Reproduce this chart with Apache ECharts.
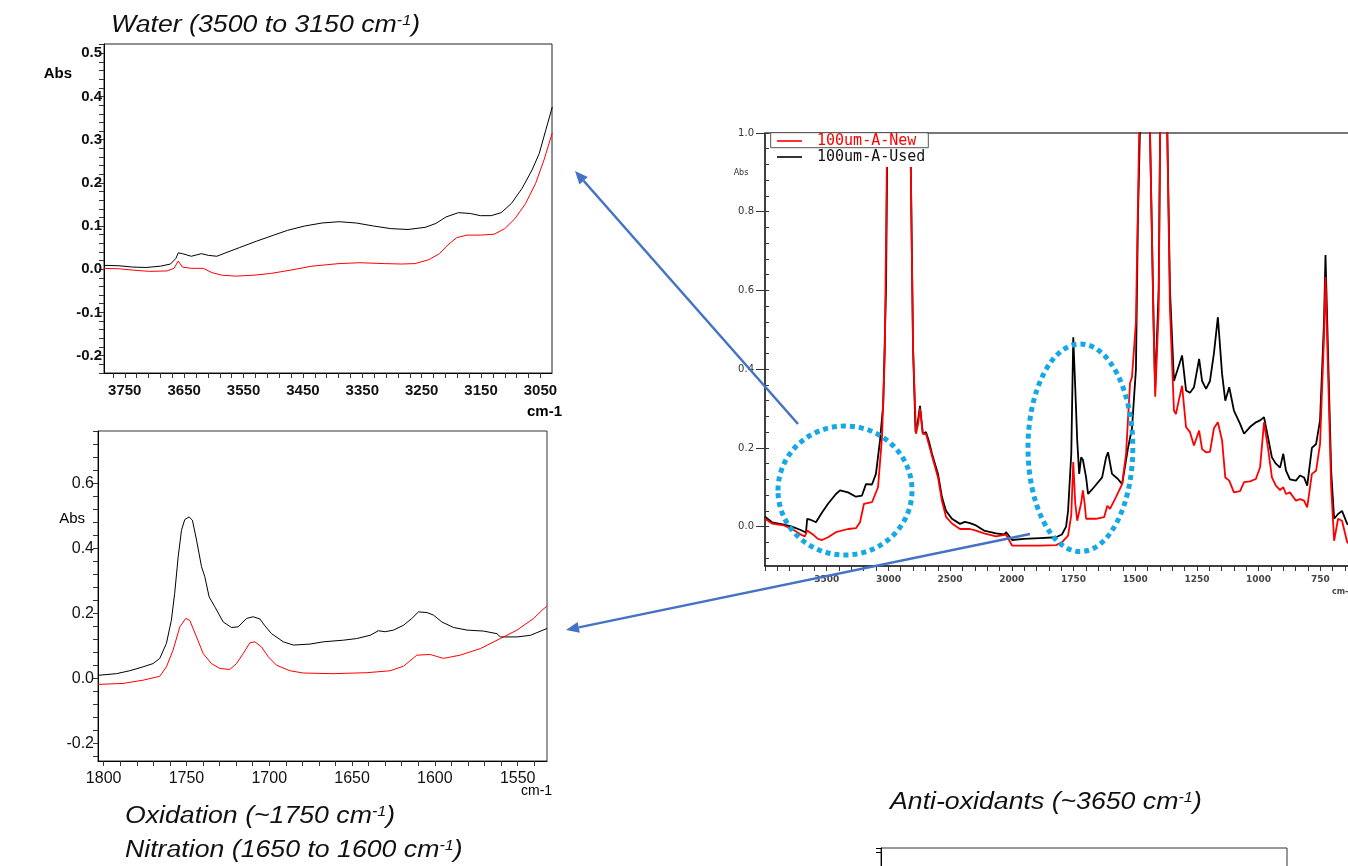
<!DOCTYPE html>
<html><head><meta charset="utf-8">
<script src="https://cdn.jsdelivr.net/npm/echarts@6/dist/echarts.min.js"></script>
<style>html,body{margin:0;padding:0;background:#fff}#c{width:1348px;height:866px}</style>
</head><body><div id="c"></div>
<script>
// ---------- DATA ----------
// Top-left: Water region (wavenumber cm-1, Abs)
const waterUsedWn  = [3785,3760,3737,3714,3690,3673,3664,3660,3653,3638,3621,3609,3595,3580,3557,3528,3499,3476,3447,3418,3389,3360,3331,3302,3273,3244,3226,3209,3188,3168,3151,3133,3116,3099,3081,3064,3052,3041,3030];
const waterUsedAbs = [0.009,0.008,0.005,0.004,0.007,0.012,0.025,0.038,0.036,0.030,0.036,0.032,0.030,0.038,0.050,0.065,0.079,0.090,0.100,0.107,0.110,0.107,0.100,0.094,0.092,0.097,0.106,0.121,0.131,0.129,0.124,0.124,0.131,0.152,0.187,0.230,0.268,0.322,0.376];
const waterNewWn   = [3785,3760,3737,3708,3679,3667,3660,3653,3638,3618,3603,3586,3563,3534,3505,3470,3435,3389,3354,3313,3284,3261,3238,3220,3206,3191,3174,3151,3128,3110,3093,3075,3058,3044,3030];
const waterNewAbs  = [0.002,0.001,-0.002,-0.005,-0.004,0.002,0.019,0.005,0.002,0.002,-0.008,-0.014,-0.016,-0.014,-0.010,-0.002,0.007,0.013,0.015,0.013,0.012,0.013,0.022,0.036,0.056,0.073,0.079,0.079,0.081,0.094,0.117,0.152,0.199,0.253,0.316];

// Bottom-left: Oxidation / Nitration region
const oxUsedWn  = [1803.4,1792.3,1784.3,1776.2,1770.2,1766.1,1762.1,1759.1,1757.1,1755.0,1753.0,1751.0,1748.4,1746.4,1743.9,1740.9,1738.9,1736.3,1732.9,1727.8,1722.8,1718.8,1713.7,1709.7,1705.6,1702.6,1698.6,1691.5,1685.5,1675.4,1667.3,1655.2,1647.2,1639.1,1634.1,1630.0,1625.0,1618.9,1613.9,1609.9,1604.8,1600.8,1595.8,1588.7,1580.6,1570.6,1562.5,1560.5,1550.4,1542.3,1532.3];
const oxUsedAbs = [0.010,0.015,0.024,0.036,0.046,0.062,0.108,0.179,0.262,0.374,0.456,0.489,0.497,0.487,0.426,0.344,0.313,0.251,0.221,0.174,0.157,0.159,0.185,0.190,0.183,0.162,0.138,0.113,0.103,0.106,0.113,0.118,0.123,0.133,0.147,0.144,0.149,0.164,0.185,0.205,0.203,0.195,0.174,0.157,0.149,0.146,0.138,0.128,0.128,0.133,0.154];
const oxNewWn   = [1803.4,1788.3,1776.2,1766.1,1762.1,1758.1,1754.0,1750.4,1748.0,1743.9,1739.9,1734.9,1729.8,1723.8,1719.8,1715.7,1711.7,1708.7,1704.6,1700.6,1695.6,1687.5,1679.4,1661.3,1641.1,1627.0,1618.9,1610.9,1602.8,1594.8,1584.7,1572.6,1560.5,1550.4,1540.3,1535.3,1532.3];
const oxNewAbs  = [-0.018,-0.015,-0.005,0.007,0.036,0.087,0.159,0.185,0.179,0.128,0.077,0.046,0.031,0.028,0.046,0.077,0.110,0.113,0.097,0.067,0.041,0.024,0.017,0.015,0.018,0.024,0.038,0.072,0.074,0.062,0.072,0.092,0.123,0.149,0.185,0.210,0.223];

// Right: full spectrum
const fullUsedWn  = [4000,3943,3846,3781,3716,3668,3658,3635,3619,3587,3538,3489,3425,3392,3327,3263,3214,3182,3133,3101,3068,3042,3019,3008,3000,2950,2920,2890,2860,2840,2826,2822,2800,2780,2776,2760,2744,2721,2695,2670,2647,2598,2566,2533,2485,2420,2380,2339,2290,2225,2128,2060,2047,2031,1999,1951,1886,1821,1797,1780,1772,1759,1751,1743,1735,1727,1719,1712,1699,1691,1667,1634,1618,1610,1594,1570,1553,1529,1513,1497,1489,1481,1470,1460,1445,1440,1425,1419,1411,1405,1399,1390,1377,1370,1359,1343,1335,1310,1294,1278,1262,1241,1229,1213,1197,1181,1165,1148,1135,1119,1100,1075,1059,1035,1011,994,978,962,946,930,913,900,889,873,849,832,816,803,784,767,751,735,729,719,706,694,678,662,641,620];
const fullUsedAbs = [0.025,0.011,0.005,0.000,-0.008,-0.015,0.020,0.018,0.015,0.011,0.036,0.058,0.083,0.092,0.087,0.076,0.079,0.108,0.107,0.134,0.219,0.310,0.610,1.000,1.300,1.600,1.800,1.500,1.700,1.400,1.100,1.000,0.450,0.240,0.236,0.270,0.307,0.236,0.240,0.215,0.185,0.134,0.075,0.040,0.020,0.007,0.012,0.009,0.003,-0.010,-0.017,-0.020,-0.014,-0.020,-0.034,-0.031,-0.029,-0.027,-0.020,0.000,0.040,0.185,0.481,0.354,0.220,0.134,0.176,0.170,0.125,0.083,0.100,0.125,0.176,0.189,0.134,0.121,0.108,0.200,0.250,0.400,0.780,1.000,1.500,1.800,1.400,1.000,0.500,0.354,0.354,0.600,1.000,1.500,1.600,1.000,0.600,0.370,0.370,0.435,0.346,0.340,0.354,0.426,0.370,0.350,0.370,0.440,0.532,0.388,0.320,0.354,0.295,0.261,0.236,0.253,0.265,0.270,0.278,0.227,0.176,0.160,0.150,0.185,0.142,0.120,0.117,0.130,0.125,0.104,0.200,0.210,0.270,0.520,0.690,0.450,0.142,0.020,0.032,0.040,0.007,0.000];
const fullNewWn   = [4000,3943,3846,3781,3716,3677,3658,3635,3603,3571,3538,3489,3425,3327,3263,3230,3198,3133,3084,3052,3029,3010,3000,2950,2920,2890,2860,2840,2826,2822,2800,2776,2760,2744,2721,2695,2647,2598,2566,2533,2485,2420,2339,2290,2225,2128,2047,2031,1999,1951,1886,1821,1797,1772,1759,1751,1743,1735,1727,1719,1712,1705,1699,1683,1659,1626,1613,1602,1578,1553,1537,1521,1513,1497,1484,1470,1460,1445,1440,1425,1419,1411,1405,1399,1390,1377,1370,1359,1343,1335,1327,1310,1294,1278,1262,1241,1229,1213,1197,1181,1165,1148,1135,1119,1100,1075,1059,1035,1011,994,978,962,946,930,913,900,889,873,849,832,816,803,784,767,751,735,729,719,706,694,678,662,641,620];
const fullNewAbs  = [0.020,0.008,0.003,-0.006,-0.019,-0.025,-0.010,-0.015,-0.022,-0.031,-0.034,-0.027,-0.014,-0.006,-0.004,0.011,0.058,0.062,0.100,0.227,0.440,1.000,1.300,1.600,1.800,1.500,1.700,1.400,1.100,1.000,0.450,0.236,0.260,0.300,0.236,0.235,0.180,0.125,0.065,0.025,0.008,-0.006,-0.006,-0.010,-0.017,-0.025,-0.020,-0.025,-0.048,-0.048,-0.048,-0.047,-0.040,-0.023,0.030,0.164,0.060,0.015,0.020,0.060,0.092,0.060,0.020,0.020,0.020,0.024,0.053,0.045,0.075,0.108,0.185,0.364,0.380,0.520,1.000,1.500,1.800,1.400,1.000,0.500,0.330,0.325,0.550,1.000,1.500,1.600,1.000,0.550,0.295,0.286,0.310,0.358,0.253,0.240,0.206,0.244,0.197,0.189,0.190,0.250,0.265,0.219,0.125,0.117,0.087,0.090,0.113,0.115,0.121,0.151,0.265,0.200,0.125,0.104,0.093,0.100,0.083,0.087,0.066,0.070,0.066,0.049,0.134,0.142,0.210,0.480,0.634,0.400,0.100,-0.036,0.020,0.015,-0.040,-0.050];

// Tick labels
const waterXLabels = [3750,3650,3550,3450,3350,3250,3150,3050];
const waterYLabels = [0.5,0.4,0.3,0.2,0.1,0.0,-0.1,-0.2];
const oxXLabels = [1800,1750,1700,1650,1600,1550];
const oxYLabels = [0.6,0.4,0.2,0.0,-0.2];
const fullXLabels = [3500,3000,2500,2000,1750,1500,1250,1000,750];
const fullYLabels = [0.0,0.2,0.4,0.6,0.8,1.0];

const NEW = '100um-A-New', USED = '100um-A-Used';

// ---------- helpers ----------
const zip = (a,b) => a.map((v,i)=>[v,b[i]]);
// piecewise FTIR x scale: 4000-2000 at 500 per unit, below 2000 at 250 per unit
const toU = wn => wn >= 2000 ? (4000-wn)/500 : 4 + (2000-wn)/250;
const fromU = u => u <= 4 ? 4000 - 500*u : 2000 - 250*(u-4);
const range = (a,b,s) => { const r=[]; for (let k=0; a+k*s <= b+1e-9; k++) r.push(Math.round((a+k*s)*1000)/1000); return r; };

const F = "'Liberation Sans', Arial, sans-serif";
const black = '#000', red = '#ff0000';
const RIGHT_W = 583, U_MAX = 583/61.7;

const chart = echarts.init(document.getElementById('c'));

function lineSeries(name, color, xi, yi, data, w) {
  return { type:'line', name, xAxisIndex:xi, yAxisIndex:yi, data, showSymbol:false, symbol:'none',
    lineStyle:{color, width:w}, itemStyle:{color}, animation:false, z:2 };
}

const supText = (a, b) => `{a|${a}}{s|-1}{a|${b}}`;
function titleText(x, y, a, b, size, sx) {
  return { type:'text', x, y, scaleX:sx, z:100, style:{ text: supText(a,b), textVerticalAlign:'middle', fill:'#111',
    rich:{ a:{fontFamily:F, fontStyle:'italic', fontSize:size, fill:'#111'},
           s:{fontFamily:F, fontStyle:'italic', fontSize:Math.round(size*0.6), fill:'#111', verticalAlign:'top'} } } };
}
function plainText(x, y, text, font, align, fill) {
  return { type:'text', x, y, z:100, style:{ text, font, textAlign:align||'left', textVerticalAlign:'middle', fill: fill||'#000' } };
}
function arrow(x1,y1,x2,y2) {
  const dx=x2-x1, dy=y2-y1, L=Math.hypot(dx,dy), ux=dx/L, uy=dy/L, h=13, w=5.5;
  const bx=x2-ux*h, by=y2-uy*h, px=-uy, py=ux;
  return [
    { type:'polyline', z:120, shape:{points:[[x1,y1],[bx,by]]}, style:{stroke:'#4472C4', lineWidth:2.5, fill:null} },
    { type:'polygon', z:120, shape:{points:[[x2,y2],[bx+px*w,by+py*w],[bx-px*w,by-py*w]]}, style:{fill:'#4472C4'} }
  ];
}

const option = {
  backgroundColor:'#fff',
  animation:false,
  grid:[
    {left:104, top:44, width:448, height:329, show:true, borderColor:'#222', borderWidth:1},
    {left:98, top:431, width:449, height:330, show:true, borderColor:'#333', borderWidth:1},
    {left:765, top:133, width:RIGHT_W, height:433, show:false},
    {left:881, top:848, width:406, height:100, show:true, borderColor:'#333', borderWidth:1}
  ],
  legend:{
    left:771, top:133, orient:'vertical', itemWidth:25, itemHeight:1.6, icon:'rect', itemGap:0,
    padding:[0,2,2,6], backgroundColor:'#fff', selectedMode:false, z:10,
    textStyle:{fontFamily:"'DejaVu Sans Mono', monospace", fontSize:15, lineHeight:16, padding:[0,0,0,10]},
    data:[{name:NEW, textStyle:{color:red}}, {name:USED, textStyle:{color:'#111'}}]
  },
  xAxis:[
    {gridIndex:0, type:'value', inverse:true, min:3030.5, max:3785, splitLine:{show:false},
     axisLine:{show:true, onZero:false, lineStyle:{color:'#000', width:1}},
     axisTick:{show:true, customValues:range(3050,3770,20), length:5, lineStyle:{color:'#333'}},
     axisLabel:{customValues:waterXLabels, formatter:v=>String(v), fontFamily:F, fontWeight:'bold', fontSize:15, color:'#111', margin:10}},
    {gridIndex:1, type:'value', inverse:true, min:1532.3, max:1803.4, splitLine:{show:false},
     axisLine:{show:true, onZero:false, lineStyle:{color:'#000', width:1}},
     axisTick:{show:true, customValues:range(1540,1800,10), length:5, lineStyle:{color:'#333'}},
     axisLabel:{customValues:oxXLabels, formatter:v=>String(v), fontFamily:F, fontSize:16, color:'#111', margin:10}},
    {gridIndex:2, type:'value', min:0, max:U_MAX, splitLine:{show:false},
     axisLine:{show:true, onZero:false, lineStyle:{color:'#000', width:1.5}},
     axisTick:{show:true, customValues:range(0,9.4,0.2), length:5, lineStyle:{color:'#333'}},
     axisLabel:{customValues:fullXLabels.map(toU), formatter:u=>String(Math.round(fromU(u))),
       fontFamily:"'DejaVu Sans', sans-serif", fontWeight:'bold', fontSize:9, color:'#444', margin:9}},
    {gridIndex:3, type:'value', min:0, max:1, show:false},
    {gridIndex:2, type:'value', position:'top', min:0, max:U_MAX, splitLine:{show:false},
     axisLine:{show:true, onZero:false, lineStyle:{color:'#777', width:2}}, axisTick:{show:false}, axisLabel:{show:false}}
  ],
  yAxis:[
    {gridIndex:0, type:'value', min:-0.2404, max:0.5216, splitLine:{show:false},
     axisLine:{show:true, onZero:false, lineStyle:{color:'#000', width:1}},
     axisTick:{show:true, customValues:range(-0.24,0.52,0.02), length:5, lineStyle:{color:'#333'}},
     axisLabel:{customValues:waterYLabels, formatter:v=>v.toFixed(1), fontFamily:F, fontWeight:'bold', fontSize:15, color:'#111', margin:2}},
    {gridIndex:1, type:'value', min:-0.2535, max:0.7612, splitLine:{show:false},
     axisLine:{show:true, onZero:false, lineStyle:{color:'#000', width:1}},
     axisTick:{show:true, customValues:range(-0.24,0.76,0.04), length:5, lineStyle:{color:'#333'}},
     axisLabel:{customValues:oxYLabels, formatter:v=>v.toFixed(1), fontFamily:F, fontSize:16, color:'#111', margin:4}},
    {gridIndex:2, type:'value', min:-0.1, max:1.0, splitLine:{show:false},
     axisLine:{show:true, onZero:false, lineStyle:{color:'#000', width:1.5}},
     axisTick:{show:true, customValues:fullYLabels, length:9, lineStyle:{color:'#333'}},
     axisLabel:{customValues:fullYLabels, formatter:v=>v.toFixed(1), fontFamily:"'DejaVu Sans', sans-serif", fontSize:10, color:'#333', margin:11}},
    {gridIndex:2, type:'value', min:-0.1, max:1.0, splitLine:{show:false},
     axisLine:{show:false}, axisLabel:{show:false},
     axisTick:{show:true, customValues:range(-0.08,1.0,0.04), length:4, lineStyle:{color:'#333'}}},
    {gridIndex:3, type:'value', min:0, max:100, splitLine:{show:false},
     axisLine:{show:true, lineStyle:{color:'#000'}}, axisLabel:{show:false},
     axisTick:{show:true, customValues:[97.7,83.7], length:5, lineStyle:{color:'#000'}}}
  ],
  series:[
    lineSeries(USED, black, 0, 0, zip(waterUsedWn, waterUsedAbs), 1),
    lineSeries(NEW, red, 0, 0, zip(waterNewWn, waterNewAbs), 1),
    lineSeries(USED, black, 1, 1, zip(oxUsedWn, oxUsedAbs), 1),
    lineSeries(NEW, red, 1, 1, zip(oxNewWn, oxNewAbs), 1),
    lineSeries(USED, black, 2, 2, fullUsedWn.map((w,i)=>[toU(w), fullUsedAbs[i]]), 1.8),
    lineSeries(NEW, red, 2, 2, fullNewWn.map((w,i)=>[toU(w), fullNewAbs[i]]), 1.8)
  ],
  graphic:[
    titleText(111, 26, 'Water (3500 to 3150 cm', ')', 23, 1.16),
    {type:'rect', z:101, shape:{x:100, y:36.5, width:340, height:6.5}, style:{fill:'#fff'}},
    plainText(72, 74, 'Abs', `bold 15px ${F}`, 'right'),
    plainText(527, 412, 'cm-1', `bold 15px ${F}`, 'left'),
    plainText(85, 519, 'Abs', `15px ${F}`, 'right'),
    plainText(521, 791, 'cm-1', `14px ${F}`, 'left'),
    plainText(741, 173, 'Abs', `8px 'DejaVu Sans', sans-serif`, 'center', '#333'),
    plainText(1332, 592, 'cm-1', `bold 8px 'DejaVu Sans', sans-serif`, 'left', '#444'),
    titleText(125, 817, 'Oxidation (~1750 cm', ')', 23, 1.16),
    titleText(125, 851, 'Nitration (1650 to 1600 cm', ')', 23, 1.16),
    titleText(890, 803, 'Anti-oxidants (~3650 cm', ')', 23, 1.16),
    {type:'rect', z:110, shape:{x:770.7, y:132.7, width:157.6, height:15}, style:{fill:null, stroke:'#555', lineWidth:1}},
    {type:'ellipse', z:115, shape:{cx:845, cy:490.5, rx:67, ry:64.5}, style:{fill:null, stroke:'#12A9E6', lineWidth:5, lineDash:[5,4]}},
    {type:'ellipse', z:115, shape:{cx:1080.4, cy:447.8, rx:52.4, ry:103.8}, style:{fill:null, stroke:'#12A9E6', lineWidth:5, lineDash:[5,4]}},
    ...arrow(798, 424, 575, 171),
    ...arrow(1030, 534, 566, 630)
  ]
};
chart.setOption(option);
</script>
</body></html>
